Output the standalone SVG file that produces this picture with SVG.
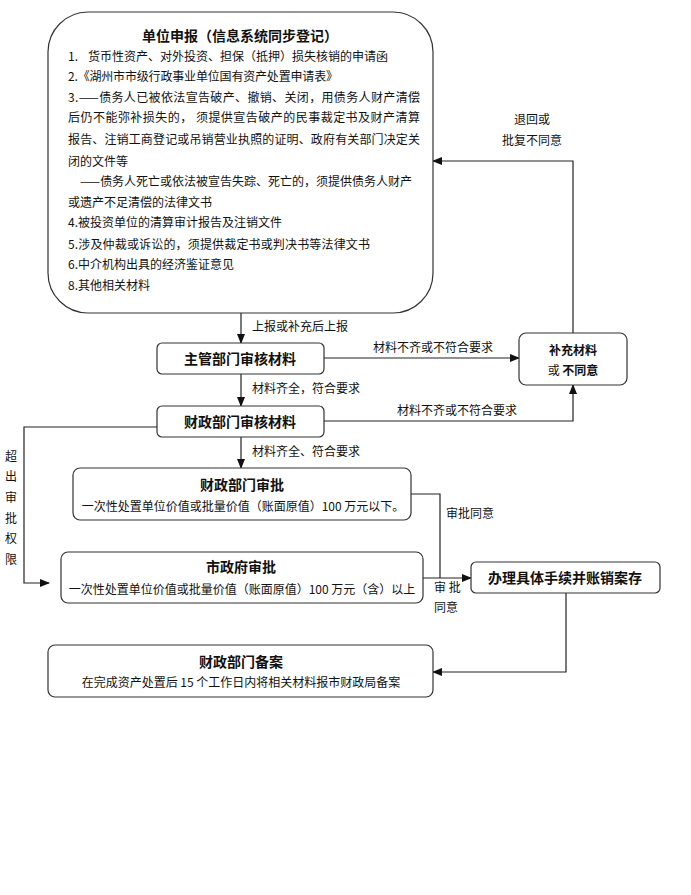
<svg xmlns="http://www.w3.org/2000/svg" width="691" height="895" viewBox="0 0 691 895">
<defs>
<style>
text{font-family:"Noto Sans CJK SC","Liberation Sans",sans-serif;font-size:12px;fill:#111}
.t{font-size:14px;font-weight:bold;text-anchor:middle}
.c{text-anchor:middle}
.box{fill:#fff;stroke:#333;stroke-width:1.2}
.ln{fill:none;stroke:#222;stroke-width:1.2}
</style>
<marker id="ah" markerWidth="10" markerHeight="8" refX="9" refY="4" orient="auto" markerUnits="userSpaceOnUse">
<path d="M0,0 L10,4 L0,8 z" fill="#111"/>
</marker>
</defs>
<rect width="691" height="895" fill="#fff"/>

<g id="connectors">
<path class="ln" d="M241,313 V343" marker-end="url(#ah)"/>
<path class="ln" d="M241,374 V406" marker-end="url(#ah)"/>
<path class="ln" d="M241,437 V468" marker-end="url(#ah)"/>
<path class="ln" d="M324,358 H519" marker-end="url(#ah)"/>
<path class="ln" d="M324,421 H573 V385" marker-end="url(#ah)"/>
<path class="ln" d="M573,333 V161 H433" marker-end="url(#ah)"/>
<path class="ln" d="M157,427 H24 V583 H49" marker-end="url(#ah)"/>
<path class="ln" d="M411,494 H440 V578"/>
<path class="ln" d="M423,578 H471" marker-end="url(#ah)"/>
<path class="ln" d="M566,593 V672 H433" marker-end="url(#ah)"/>
<text x="252" y="331">上报或补充后上报</text>
<text x="252" y="393">材料齐全，符合要求</text>
<text x="252" y="456">材料齐全、符合要求</text>
<text class="c" x="433" y="352">材料不齐或不符合要求</text>
<text class="c" x="457" y="415">材料不齐或不符合要求</text>
<text class="c" x="532" y="124">退回或</text>
<text class="c" x="532" y="145">批复不同意</text>
<text class="c" x="11" y="461">超</text>
<text class="c" x="11" y="481">出</text>
<text class="c" x="11" y="502">审</text>
<text class="c" x="11" y="523">批</text>
<text class="c" x="11" y="543">权</text>
<text class="c" x="11" y="564">限</text>
<text x="446" y="518">审批同意</text>
<text x="434" y="592">审 批</text>
<text x="434" y="612">同意</text>
</g>

<g id="n_unit">
<rect class="box" x="48" y="12" width="385" height="301" rx="40" ry="40"/>
<text class="t" x="240" y="41">单位申报（信息系统同步登记）</text>
<text x="68" y="61">1.<tspan x="88" textLength="300" lengthAdjust="spacing">货币性资产、对外投资、担保（抵押）损失核销的申请函</tspan></text>
<text x="68" y="81" textLength="270" lengthAdjust="spacing">2.《湖州市市级行政事业单位国有资产处置申请表》</text>
<text x="68" y="102" textLength="352" lengthAdjust="spacing">3.——债务人已被依法宣告破产、撤销、关闭，用债务人财产清偿</text>
<text x="68" y="122" textLength="352" lengthAdjust="spacing">后仍不能弥补损失的， 须提供宣告破产的民事裁定书及财产清算</text>
<text x="68" y="144" textLength="352" lengthAdjust="spacing">报告、注销工商登记或吊销营业执照的证明、政府有关部门决定关</text>
<text x="68" y="166">闭的文件等</text>
<text x="80" y="186" textLength="332" lengthAdjust="spacing">——债务人死亡或依法被宣告失踪、死亡的，须提供债务人财产</text>
<text x="68" y="207">或遗产不足清偿的法律文书</text>
<text x="68" y="227">4.被投资单位的清算审计报告及注销文件</text>
<text x="68" y="249" textLength="302" lengthAdjust="spacing">5.涉及仲裁或诉讼的，须提供裁定书或判决书等法律文书</text>
<text x="68" y="269">6.中介机构出具的经济鉴证意见</text>
<text x="68" y="290">8.其他相关材料</text>
</g>

<g id="n_zhuguan">
<rect class="box" x="157" y="343" width="167" height="31" rx="5"/>
<text class="t" x="240" y="364">主管部门审核材料</text>
</g>

<g id="n_caizheng_check">
<rect class="box" x="157" y="406" width="167" height="31" rx="5"/>
<text class="t" x="240" y="427">财政部门审核材料</text>
</g>

<g id="n_buchong">
<rect class="box" x="519" y="333" width="108" height="52" rx="7"/>
<text class="c" x="573" y="355" style="font-weight:bold">补充材料</text>
<text class="c" x="573" y="375">或 <tspan style="font-weight:bold">不同意</tspan></text>
</g>

<g id="n_caizheng_approve">
<rect class="box" x="73" y="468" width="338" height="52" rx="7"/>
<text class="t" x="242" y="490">财政部门审批</text>
<text class="c" x="243" y="511">一次性处置单位价值或批量价值（账面原值）100 万元以下。</text>
</g>

<g id="n_city">
<rect class="box" x="61" y="552" width="362" height="51" rx="7"/>
<text class="t" x="241" y="572">市政府审批</text>
<text class="c" x="242" y="594">一次性处置单位价值或批量价值（账面原值）100 万元（含）以上</text>
</g>

<g id="n_handle">
<rect class="box" x="471" y="562" width="189" height="31" rx="5"/>
<text class="t" x="565" y="583">办理具体手续并账销案存</text>
</g>

<g id="n_record">
<rect class="box" x="48" y="645" width="385" height="52" rx="7"/>
<text class="t" x="241" y="667">财政部门备案</text>
<text class="c" x="241" y="687">在完成资产处置后 15 个工作日内将相关材料报市财政局备案</text>
</g>
</svg>
